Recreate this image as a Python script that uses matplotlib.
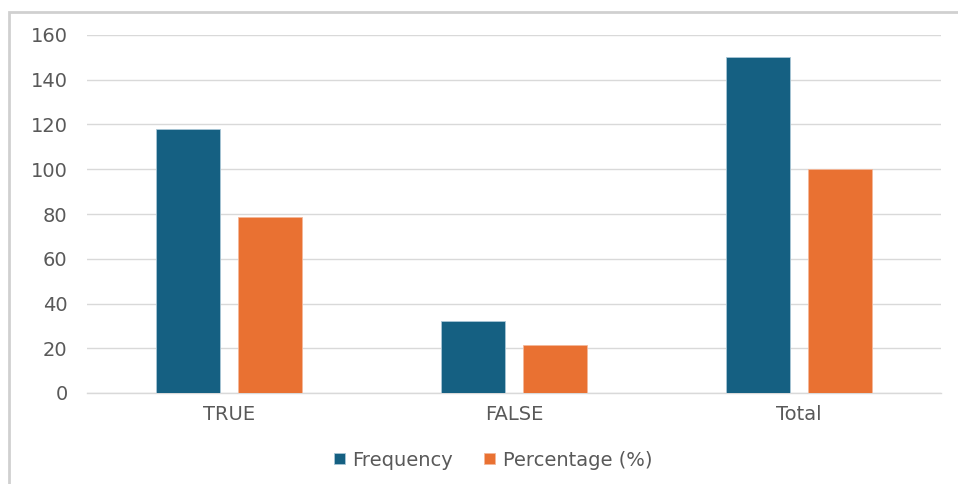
import matplotlib
matplotlib.use("Agg")
import matplotlib.pyplot as plt
from matplotlib.patches import Rectangle
import numpy as np

categories = ["TRUE", "FALSE", "Total"]
frequency = [118, 32, 150]
percentage = [78.67, 21.33, 100]
series_names = ["Frequency", "Percentage (%)"]

BLUE = "#156082"
ORANGE = "#E97132"
TEXT = "#595959"
GRID = "#D9D9D9"

plt.rcParams["font.family"] = ["DejaVu Sans"]

W, H = 958, 484
fig = plt.figure(figsize=(W / 100, H / 100), dpi=100)

# chart frame (outline only on left and top, the rest runs off the edge)
fig.patches.append(Rectangle((9 / W, -0.1), 1.2, 1 - 12 / H + 0.1,
                             transform=fig.transFigure, fill=False,
                             edgecolor="#D0D0D0", linewidth=2.0))

ax = fig.add_axes([87 / W, (H - 393) / H, (941 - 87) / W, (393 - 35) / H])

x = np.arange(len(categories))
bw = 0.225
off = 0.144
ax.bar(x - off, frequency, bw, color=BLUE, edgecolor="#A9C6D6",
       linewidth=0.6, label=series_names[0], zorder=3)
ax.bar(x + off, percentage, bw, color=ORANGE, edgecolor="#F4B89A",
       linewidth=0.6, label=series_names[1], zorder=3)

ax.set_xlim(-0.5, len(categories) - 0.5)
ax.set_ylim(0, 160)
ax.set_yticks(range(0, 161, 20))
ax.set_xticks(x)
ax.set_xticklabels(categories)
ax.tick_params(axis="both", length=0, labelsize=14, colors=TEXT)
ax.tick_params(axis="y", pad=14)
ax.tick_params(axis="x", pad=9)

ax.yaxis.grid(True, color=GRID, linewidth=1.0, zorder=0)
for side in ["top", "right", "left"]:
    ax.spines[side].set_visible(False)
ax.spines["bottom"].set_color(GRID)
ax.spines["bottom"].set_linewidth(1.0)

fig.legend(loc="center", bbox_to_anchor=(493 / W, 1 - 460 / H), ncol=2,
           frameon=False, fontsize=14, labelcolor=TEXT, handlelength=0.55,
           handleheight=0.55, handletextpad=0.4, columnspacing=1.6)

fig.savefig("out.png", dpi=100)
